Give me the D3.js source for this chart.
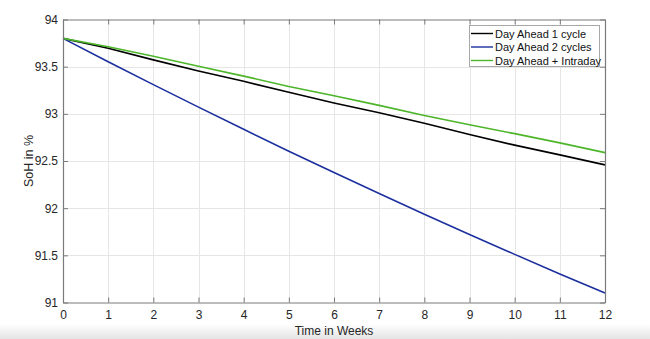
<!DOCTYPE html>
<html>
<head>
<meta charset="utf-8">
<script src="https://cdn.jsdelivr.net/npm/d3@7"></script>
<style>
  html, body { margin: 0; padding: 0; background: #fff; }
  svg { display: block; }
  text { font-family: "Liberation Sans", Arial, sans-serif; }
</style>
</head>
<body>
<script>
// State of health over 12 weeks for three trading strategies
const weeks = [0, 1, 2, 3, 4, 5, 6, 7, 8, 9, 10, 11, 12];
const dayAhead1 = [93.80, 93.695, 93.572, 93.455, 93.345, 93.228, 93.115, 93.012, 92.900, 92.780, 92.668, 92.565, 92.459];
const dayAhead2 = [93.80, 93.553, 93.310, 93.071, 92.836, 92.603, 92.378, 92.155, 91.936, 91.721, 91.510, 91.303, 91.100];
const dayAheadIntraday = [93.80, 93.712, 93.610, 93.505, 93.400, 93.290, 93.192, 93.090, 92.983, 92.885, 92.790, 92.692, 92.589];
const seriesNames = ["Day Ahead 1 cycle", "Day Ahead 2 cycles", "Day Ahead + Intraday"];
const seriesColors = ["#000000", "#1c2f9e", "#4db52a"];
const xTicks = [0, 1, 2, 3, 4, 5, 6, 7, 8, 9, 10, 11, 12];
const yTicks = [91, 91.5, 92, 92.5, 93, 93.5, 94];

const W = 650, H = 339;
const plotLeft = 63, plotRight = 605, plotTop = 19.5, plotBottom = 302.5;

const svg = d3.select("body").append("svg").attr("width", W).attr("height", H);

// soft grey band along the bottom edge
const defs = svg.append("defs");
const grad = defs.append("linearGradient").attr("id", "bottomFade")
  .attr("x1", 0).attr("y1", 0).attr("x2", 0).attr("y2", 1);
grad.append("stop").attr("offset", "0%").attr("stop-color", "#ffffff");
grad.append("stop").attr("offset", "100%").attr("stop-color", "#e4e4e4");
svg.append("rect").attr("x", 0).attr("y", 324).attr("width", W).attr("height", H - 324)
  .attr("fill", "url(#bottomFade)");

const x = d3.scaleLinear().domain([0, 12]).range([plotLeft, plotRight]);
const y = d3.scaleLinear().domain([91, 94]).range([plotBottom, plotTop]);

// grid
const grid = svg.append("g").attr("stroke", "#e6e6e6").attr("stroke-width", 1);
grid.selectAll("line.vx").data(xTicks.slice(1, -1)).join("line")
  .attr("x1", d => Math.round(x(d)) + 0.5).attr("x2", d => Math.round(x(d)) + 0.5)
  .attr("y1", plotTop).attr("y2", plotBottom);
grid.selectAll("line.hy").data(yTicks.slice(1, -1)).join("line")
  .attr("y1", d => Math.round(y(d)) + 0.5).attr("y2", d => Math.round(y(d)) + 0.5)
  .attr("x1", plotLeft).attr("x2", plotRight);

// series
const data = [dayAhead1, dayAhead2, dayAheadIntraday];
const line = d3.line().x((d, i) => x(weeks[i])).y(d => y(d));
svg.append("g").selectAll("path").data(data).join("path")
  .attr("d", line)
  .attr("fill", "none")
  .attr("stroke", (d, i) => seriesColors[i])
  .attr("stroke-width", 1.6)
  .attr("stroke-linejoin", "round");

// axes with inward ticks on all four sides
const axisColor = "#7a7a7a";
const fmt = d3.format("~g");
const gx = svg.append("g").attr("transform", `translate(0,${plotBottom})`)
  .call(d3.axisBottom(x).tickValues(xTicks).tickFormat(fmt).tickSizeInner(-5).tickSizeOuter(0).tickPadding(8));
const gxTop = svg.append("g").attr("transform", `translate(0,${plotTop})`)
  .call(d3.axisTop(x).tickValues(xTicks).tickFormat("").tickSizeInner(-5).tickSizeOuter(0));
const gy = svg.append("g").attr("transform", `translate(${plotLeft},0)`)
  .call(d3.axisLeft(y).tickValues(yTicks).tickFormat(fmt).tickSizeInner(-5).tickSizeOuter(0).tickPadding(5));
const gyRight = svg.append("g").attr("transform", `translate(${plotRight},0)`)
  .call(d3.axisRight(y).tickValues(yTicks).tickFormat("").tickSizeInner(-5).tickSizeOuter(0));

[gx, gxTop, gy, gyRight].forEach(g => {
  g.selectAll(".domain").attr("stroke", axisColor).attr("stroke-width", 1.2);
  g.selectAll(".tick line").attr("stroke", axisColor);
  g.selectAll(".tick text").attr("fill", "#262626").style("font-size", "12px")
    .style("font-family", "'Liberation Sans', Arial, sans-serif");
});

// axis titles
svg.append("text").attr("x", (plotLeft + plotRight) / 2).attr("y", 334.5)
  .attr("text-anchor", "middle").attr("fill", "#262626").style("font-size", "12px")
  .text("Time in Weeks");
svg.append("text").attr("transform", `translate(33,${(plotTop + plotBottom) / 2}) rotate(-90)`)
  .attr("text-anchor", "middle").attr("fill", "#262626").style("font-size", "12.5px")
  .text("SoH in %");

// legend
const lg = svg.append("g");
lg.append("rect").attr("x", 469.5).attr("y", 25.5).attr("width", 130).attr("height", 41)
  .attr("fill", "#fff").attr("stroke", "#a8a8a8").attr("stroke-width", 1);
seriesNames.forEach((name, i) => {
  const yy = 33.5 + i * 13.5;
  lg.append("line").attr("x1", 471).attr("x2", 493).attr("y1", yy).attr("y2", yy)
    .attr("stroke", seriesColors[i]).attr("stroke-width", 1.4);
  lg.append("text").attr("x", 495).attr("y", yy + 4).attr("fill", "#111")
    .style("font-size", "11px").text(name);
});
</script>
</body>
</html>
